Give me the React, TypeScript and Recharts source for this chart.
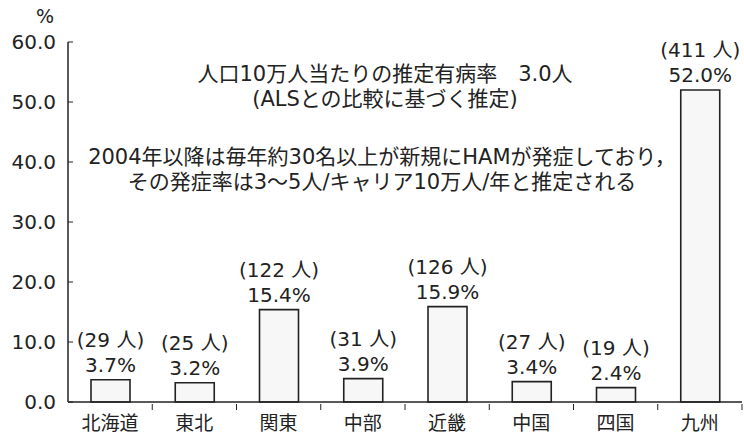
import { BarChart, Bar, XAxis, YAxis, LabelList } from 'recharts';

const regions = ['北海道', '東北', '関東', '中部', '近畿', '中国', '四国', '九州'];
const percents = [3.7, 3.2, 15.4, 3.9, 15.9, 3.4, 2.4, 52.0];
const patients = [29, 25, 122, 31, 126, 27, 19, 411];
const yTicks = [0, 10, 20, 30, 40, 50, 60];

const noteLines = [
  '人口10万人当たりの推定有病率　3.0人',
  '(ALSとの比較に基づく推定)',
  '2004年以降は毎年約30名以上が新規にHAMが発症しており，',
  'その発症率は3〜5人/キャリア10万人/年と推定される',
];

const data = regions.map((r, i) => ({ region: r, pct: percents[i], n: patients[i] }));

const FONT = '"DejaVu Sans", "Noto Sans CJK JP", sans-serif';
const INK = '#222';

// ── ticks ───────────────────────────────────────────────
function YTick(props: { x?: number; y?: number; payload?: { value: number } }) {
  const { x = 0, y = 0, payload } = props;
  return (
    <g>
      <line x1={x} x2={x + 5} y1={y} y2={y} stroke={INK} strokeWidth={1} />
      <text x={x - 12} y={y} dy={7} textAnchor="end" fontSize={20} fill={INK} fontFamily={FONT}>
        {payload ? payload.value.toFixed(1) : ''}
      </text>
    </g>
  );
}

function XTick(props: { x?: number; y?: number; payload?: { value: string; index: number } }) {
  const { x = 0, y = 0, payload } = props;
  const half = 674 / regions.length / 2;
  return (
    <g>
      <line x1={x + half} x2={x + half} y1={y} y2={y - 6} stroke={INK} strokeWidth={1} />
      <text x={x} y={y} dy={20} textAnchor="middle" fontSize={19} fill={INK} fontFamily={FONT}>
        {payload?.value}
      </text>
    </g>
  );
}

// ── bar labels ──────────────────────────────────────────
function BarLabel(props: { x?: number; y?: number; width?: number; index?: number }) {
  const { x = 0, y = 0, width = 0, index = 0 } = props;
  const cx = x + width / 2;
  return (
    <g fontFamily={FONT} fontSize={20} fill={INK}>
      <text x={cx} y={y - 33} textAnchor="middle">{`(${patients[index]} 人)`}</text>
      <text x={cx} y={y - 8} textAnchor="middle">{`${percents[index].toFixed(1)}%`}</text>
    </g>
  );
}

const noteStyle = {
  position: 'absolute' as const,
  textAlign: 'center' as const,
  fontFamily: FONT,
  fontSize: 21,
  color: INK,
  lineHeight: '25px',
  whiteSpace: 'nowrap' as const,
};

export default function App() {
  return (
    <div style={{ position: 'absolute', left: 0, top: 0, width: 744, height: 437, background: '#fff' }}>
      <BarChart
        width={744}
        height={437}
        data={data}
        margin={{ top: 42, right: 2, bottom: 0, left: 0 }}
        barCategoryGap={0}
      >
        <XAxis
          dataKey="region"
          tick={<XTick />}
          tickLine={false}
          axisLine={{ stroke: INK, strokeWidth: 1.5 }}
          interval={0}
          height={35}
        />
        <YAxis
          type="number"
          domain={[0, 60]}
          ticks={yTicks}
          tick={<YTick />}
          tickLine={false}
          axisLine={{ stroke: INK, strokeWidth: 1.5 }}
          width={68}
          tickSize={0}
          tickMargin={0}
        />
        <Bar dataKey="pct" barSize={39} fill="#f7f7f7" stroke={INK} strokeWidth={1.6} isAnimationActive={false}>
          <LabelList dataKey="pct" content={<BarLabel />} />
        </Bar>
      </BarChart>
      <div style={{ position: 'absolute', left: 36, top: 5, fontFamily: FONT, fontSize: 19, color: INK }}>%</div>
      <div style={{ ...noteStyle, left: 85, top: 62, width: 600 }}>
        <div>{noteLines[0]}</div>
        <div>{noteLines[1]}</div>
      </div>
      <div style={{ ...noteStyle, left: 62, top: 145, width: 640 }}>
        <div>{noteLines[2]}</div>
        <div>{noteLines[3]}</div>
      </div>
    </div>
  );
}
